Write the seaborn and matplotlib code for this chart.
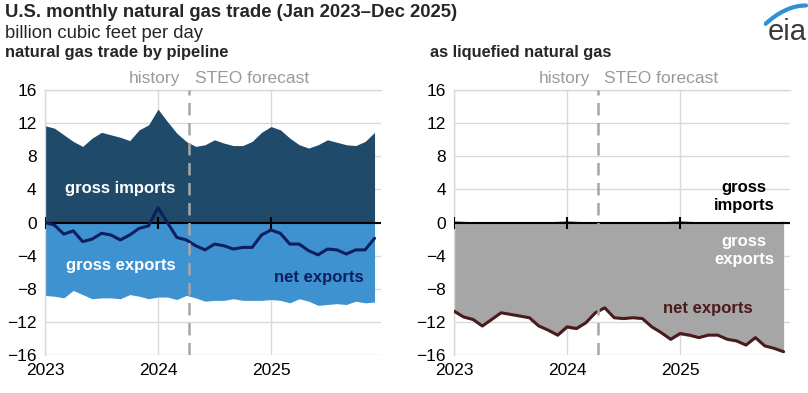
## U.S. monthly natural gas trade, pipeline vs LNG (Jan 2023 - Dec 2025)

import numpy as np
import pandas as pd
import seaborn as sns
import matplotlib.pyplot as plt

# months since Jan 2023 (0 = Jan 2023, 35 = Dec 2025)
months = list(range(36))
year_ticks = [0, 12, 24]
year_labels = ["2023", "2024", "2025"]
forecast_start = 15.3  # history / STEO forecast split

# pipeline trade (bcf/d)
pipe_imports = [11.7, 11.4, 10.6, 9.8, 9.2, 10.2, 10.9, 10.6, 10.3, 9.9, 11.2, 11.8,
                13.7, 12.2, 10.8, 9.8, 9.2, 9.4, 10.0, 9.6, 9.3, 9.3, 9.8, 10.9,
                11.6, 11.2, 10.2, 9.4, 9.0, 9.4, 10.0, 9.7, 9.4, 9.3, 9.8, 10.9]
pipe_exports = [-8.8, -8.9, -9.1, -8.2, -8.7, -9.2, -9.1, -9.1, -9.2, -8.7, -8.9, -9.2,
                -9.0, -9.0, -9.3, -8.8, -9.1, -9.5, -9.4, -9.4, -9.2, -9.4, -9.4, -9.4,
                -9.3, -9.4, -9.7, -9.2, -9.5, -10.0, -9.9, -9.8, -9.9, -9.5, -9.7, -9.6]
pipe_net = [0.0, -0.3, -1.4, -1.0, -2.3, -2.0, -1.3, -1.5, -2.1, -1.5, -0.7, -0.4,
            1.8, 0.0, -1.8, -2.1, -2.8, -3.3, -2.6, -2.8, -3.2, -3.0, -3.0, -1.5,
            -0.9, -1.3, -2.6, -2.6, -3.4, -3.9, -3.2, -3.3, -3.8, -3.3, -3.3, -1.9]

# liquefied natural gas trade (bcf/d)
lng_imports = [0.2, 0.15, 0.1, 0.05, 0.05, 0.05, 0.05, 0.05, 0.05, 0.05, 0.1, 0.15,
               0.2, 0.15, 0.1, 0.05, 0.05, 0.05, 0.05, 0.05, 0.05, 0.05, 0.1, 0.15,
               0.2, 0.15, 0.1, 0.05, 0.05, 0.05, 0.05, 0.05, 0.05, 0.05, 0.1, 0.15]
lng_net = [-10.7, -11.4, -11.7, -12.5, -11.7, -10.9, -11.1, -11.3, -11.5, -12.5, -13.0, -13.6,
           -12.6, -12.8, -12.1, -10.9, -10.3, -11.5, -11.6, -11.5, -11.6, -12.6, -13.3, -14.1,
           -13.4, -13.6, -13.9, -13.6, -13.6, -14.1, -14.3, -14.8, -13.9, -14.9, -15.2, -15.6]
lng_exports = [n - i for n, i in zip(lng_net, lng_imports)]

sns.set_theme(style="white")
plt.rcParams['font.family'] = ['Liberation Sans', 'DejaVu Sans']

pipe = pd.DataFrame({"month": months, "imports": pipe_imports,
                     "exports": pipe_exports, "net": pipe_net})
lng = pd.DataFrame({"month": months, "imports": lng_imports,
                    "exports": lng_exports, "net": lng_net})

fig = plt.figure(figsize=(8.08, 3.93), dpi=100)
ax1 = fig.add_axes([0.0557, 0.0967, 0.416, 0.674])
ax2 = fig.add_axes([0.562, 0.0967, 0.416, 0.674])


def draw_panel(ax, df, imp_color, exp_color, net_color):
    ax.fill_between(df["month"], 0, df["imports"], color=imp_color, linewidth=0, zorder=2)
    ax.fill_between(df["month"], 0, df["exports"], color=exp_color, linewidth=0, zorder=2)
    sns.lineplot(data=df, x="month", y="net", ax=ax, color=net_color, linewidth=2.2, zorder=4)
    ax.axhline(0, color="black", linewidth=1.5, zorder=3)
    ax.plot(year_ticks, [0] * 3, linestyle="none", marker="|", markersize=9,
            markeredgewidth=1.5, color="black", zorder=3)
    ax.axvline(forecast_start, color="#a6a6a6", linestyle=(0, (5, 3)), linewidth=1.8, zorder=5)
    ax.text(forecast_start - 0.9, 16.5, "history", ha="right", va="bottom",
            color="#9a9a9a", fontsize=12.5)
    ax.text(forecast_start + 0.6, 16.5, "STEO forecast", ha="left", va="bottom",
            color="#9a9a9a", fontsize=12.5)

    ax.set_xlim(0, 35.7)
    ax.set_ylim(-16, 16)
    ax.set_yticks(range(-16, 17, 4))
    ax.set_xticks(year_ticks)
    ax.set_xticklabels(year_labels)
    ax.set_xlabel("")
    ax.set_ylabel("")
    ax.grid(True, color="#d9d9d9", linewidth=1, zorder=0)
    ax.set_axisbelow(True)
    ax.tick_params(axis="both", length=0, labelsize=12.5, colors="black", pad=6)
    for side in ["right", "bottom"]:
        ax.spines[side].set_visible(False)
    for side in ["left", "top"]:
        ax.spines[side].set_color("#d9d9d9")
        ax.spines[side].set_linewidth(1)


draw_panel(ax1, pipe, "#1f4a69", "#3f92d0", "#0d1f5e")
draw_panel(ax2, lng, "#1f4a69", "#a6a6a6", "#4a1b1d")

# labels inside the panels
ax1.text(8.0, 4.1, "gross imports", color="white", fontsize=12, fontweight="bold",
         ha="center", va="center", zorder=6)
ax1.text(8.0, -5.2, "gross exports", color="white", fontsize=12, fontweight="bold",
         ha="center", va="center", zorder=6)
ax1.text(29.1, -6.6, "net exports", color="#0d1f5e", fontsize=12, fontweight="bold",
         ha="center", va="center", zorder=6)
ax2.text(30.8, 3.2, "gross\nimports", color="black", fontsize=12, fontweight="bold",
         ha="center", va="center", linespacing=1.25, zorder=6)
ax2.text(30.8, -3.4, "gross\nexports", color="white", fontsize=12, fontweight="bold",
         ha="center", va="center", linespacing=1.25, zorder=6)
ax2.text(26.9, -10.4, "net exports", color="#4a1b1d", fontsize=12, fontweight="bold",
         ha="center", va="center", zorder=6)

# headings
fig.text(0.006, 0.968, "U.S. monthly natural gas trade (Jan 2023\u2013Dec 2025)",
         fontsize=13.3, fontweight="bold", ha="left", va="center")
fig.text(0.006, 0.914, "billion cubic feet per day", fontsize=13.3, ha="left", va="center")
fig.text(0.006, 0.866, "natural gas trade by pipeline", fontsize=11.9, fontweight="bold",
         ha="left", va="center")
fig.text(0.532, 0.866, "as liquefied natural gas", fontsize=11.8, fontweight="bold",
         ha="left", va="center")

# eia logo: text with a blue swoosh above it
fig.text(0.974, 0.918, "eia", fontsize=21, color="#3a3a3a", ha="center", va="center")
logo = fig.add_axes([0.945, 0.93, 0.055, 0.07])
arc_x = np.linspace(0, 1, 40)
logo.plot(arc_x, 1 - (1 - arc_x) ** 2, color="#2d8fd5", linewidth=3)
logo.set_xlim(-0.05, 1.05)
logo.set_ylim(-0.2, 1.3)
logo.axis("off")

fig.savefig("out.png", dpi=100)
